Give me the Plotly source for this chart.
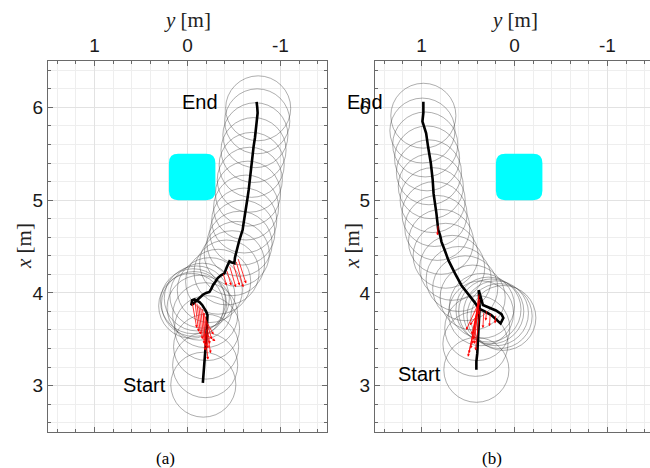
import plotly.graph_objects as go

# ---------------- data ----------------
lat_tickvals = [1, 0, -1]
lat_ticktext = ["1", "0", "-1"]
lon_tickvals = [3, 4, 5, 6]
lon_ticktext = ["3", "4", "5", "6"]

robot_radius = 0.35
obstacle_lat = [-0.3, 0.2]
obstacle_lon = [5.0, 5.5]
obstacle_corner = 0.1

# panel (a) trajectory  (lateral y, longitudinal x)
path_a_lat = [-0.165, -0.175, -0.185, -0.19, -0.201, -0.21, -0.218, -0.215, -0.20, -0.175,
              -0.158, -0.129, -0.10, -0.076, -0.05, -0.04, -0.06, -0.11, -0.165, -0.20,
              -0.236, -0.26, -0.272, -0.30, -0.325, -0.36, -0.397, -0.42, -0.451, -0.47,
              -0.504, -0.51, -0.529, -0.54, -0.558, -0.575, -0.593, -0.60, -0.611, -0.620,
              -0.630, -0.645, -0.658, -0.665, -0.673, -0.685, -0.694, -0.70, -0.711, -0.725,
              -0.737, -0.745, -0.754, -0.75, -0.743]
path_a_lon = [3.03, 3.13, 3.24, 3.36, 3.49, 3.60, 3.71, 3.76, 3.80, 3.84,
              3.87, 3.90, 3.92, 3.93, 3.92, 3.87, 3.88, 3.93, 3.98, 4.00,
              4.01, 4.05, 4.08, 4.12, 4.16, 4.19, 4.21, 4.27, 4.34, 4.33,
              4.32, 4.38, 4.44, 4.50, 4.57, 4.62, 4.68, 4.73, 4.79, 4.86,
              4.93, 5.02, 5.11, 5.18, 5.25, 5.34, 5.43, 5.50, 5.58, 5.67,
              5.76, 5.85, 5.94, 6.00, 6.06]

circ_a_lat = [-0.17, -0.19, -0.20, -0.21, -0.19, -0.13, -0.07, -0.04, -0.06, -0.10,
              -0.16, -0.24, -0.33, -0.42, -0.48, -0.53, -0.56, -0.59, -0.61, -0.63,
              -0.65, -0.67, -0.69, -0.71, -0.73, -0.75, -0.76]
circ_a_lon = [3.01, 3.22, 3.42, 3.62, 3.76, 3.84, 3.88, 3.86, 3.91, 3.94,
              3.97, 4.03, 4.12, 4.22, 4.32, 4.42, 4.53, 4.65, 4.78, 4.92,
              5.07, 5.22, 5.38, 5.54, 5.70, 5.85, 5.99]

arrow_a_tail_lat = [-0.05, -0.08, -0.10, -0.12, -0.14, -0.16, -0.18, -0.19, -0.20, -0.21,
                    -0.20, -0.19, -0.20, -0.17, -0.38, -0.42, -0.45, -0.49, -0.52, -0.54]
arrow_a_tail_lon = [3.90, 3.91, 3.90, 3.88, 3.86, 3.84, 3.80, 3.76, 3.72, 3.68,
                    3.62, 3.58, 3.55, 3.80, 4.22, 4.25, 4.30, 4.32, 4.35, 4.38]
arrow_a_head_lat = [-0.10, -0.12, -0.14, -0.16, -0.18, -0.20, -0.22, -0.24, -0.26, -0.28,
                    -0.25, -0.22, -0.30, -0.19, -0.42, -0.47, -0.52, -0.56, -0.60, -0.63]
arrow_a_head_lon = [3.62, 3.58, 3.55, 3.50, 3.45, 3.42, 3.40, 3.45, 3.50, 3.55,
                    3.35, 3.28, 3.48, 3.38, 4.08, 4.08, 4.06, 4.08, 4.06, 4.10]

# panel (b) trajectory
path_b_lat = [0.41, 0.41, 0.40, 0.39, 0.385, 0.38, 0.375, 0.38, 0.385, 0.34,
              0.27, 0.20, 0.14, 0.12, 0.15, 0.19, 0.25, 0.32, 0.38, 0.43,
              0.50, 0.57, 0.64, 0.71, 0.75, 0.785, 0.80, 0.82, 0.84, 0.87,
              0.88, 0.90, 0.93, 0.95, 0.99, 0.98, 0.98]
path_b_lon = [3.17, 3.26, 3.35, 3.53, 3.62, 3.71, 3.85, 3.95, 4.03, 3.87,
              3.84, 3.81, 3.77, 3.73, 3.67, 3.71, 3.76, 3.80, 3.83, 3.90,
              3.99, 4.08, 4.21, 4.35, 4.46, 4.55, 4.62, 4.68, 4.86, 5.07,
              5.22, 5.40, 5.58, 5.72, 5.85, 5.94, 6.06]

circ_b_lat = [0.41, 0.42, 0.40, 0.36, 0.28, 0.20, 0.12, 0.16, 0.25, 0.35,
              0.45, 0.53, 0.60, 0.67, 0.74, 0.79, 0.83, 0.86, 0.88, 0.90,
              0.92, 0.94, 0.96, 0.99, 0.98]
circ_b_lon = [3.17, 3.45, 3.62, 3.78, 3.82, 3.78, 3.73, 3.75, 3.80, 3.86,
              3.95, 4.05, 4.15, 4.27, 4.40, 4.55, 4.70, 4.85, 5.00, 5.15,
              5.30, 5.45, 5.60, 5.75, 5.91]

arrow_b_tail_lat = [0.38, 0.38, 0.37, 0.37, 0.38, 0.39, 0.38, 0.37, 0.36, 0.40,
                    0.33, 0.26, 0.20, 0.30, 0.82]
arrow_b_tail_lon = [4.00, 3.98, 3.95, 3.92, 3.90, 3.88, 3.86, 3.84, 3.82, 3.80,
                    3.80, 3.79, 3.77, 3.82, 4.74]
arrow_b_head_lat = [0.45, 0.47, 0.49, 0.50, 0.46, 0.52, 0.44, 0.42, 0.48, 0.43,
                    0.34, 0.27, 0.21, 0.31, 0.83]
arrow_b_head_lon = [3.45, 3.40, 3.35, 3.31, 3.55, 3.60, 3.50, 3.38, 3.65, 3.45,
                    3.62, 3.64, 3.67, 3.70, 4.62]

label_pos_a = {"End": (-0.13, 6.06), "Start": (0.46, 3.01)}
label_pos_b = {"End": (1.61, 6.06), "Start": (1.02, 3.13)}

# ---------------- figure ----------------
W, H = 650, 468
LON_RANGE = [2.5, 6.5]
PLOT_TOP, PLOT_BOTTOM = 61, 432
fig = go.Figure()

fig.add_trace(go.Scatter(x=path_a_lat, y=path_a_lon, mode="lines",
                         line=dict(color="black", width=2.6),
                         xaxis="x", yaxis="y", hoverinfo="skip", showlegend=False))
fig.add_trace(go.Scatter(x=path_b_lat, y=path_b_lon, mode="lines",
                         line=dict(color="black", width=2.6),
                         xaxis="x2", yaxis="y2", hoverinfo="skip", showlegend=False))

shapes = []
annotations = []


def obstacle_path(lat, lon, r):
    x0, x1 = min(lat), max(lat)
    y0, y1 = min(lon), max(lon)
    return (f"M {x0 + r},{y0} L {x1 - r},{y0} Q {x1},{y0} {x1},{y0 + r} "
            f"L {x1},{y1 - r} Q {x1},{y1} {x1 - r},{y1} L {x0 + r},{y1} "
            f"Q {x0},{y1} {x0},{y1 - r} L {x0},{y0 + r} Q {x0},{y0} {x0 + r},{y0} Z")


for xr, yr, clat, clon in [("x", "y", circ_a_lat, circ_a_lon),
                           ("x2", "y2", circ_b_lat, circ_b_lon)]:
    shapes.append(dict(type="path", xref=xr, yref=yr,
                       path=obstacle_path(obstacle_lat, obstacle_lon, obstacle_corner),
                       fillcolor="#00ffff", line=dict(width=0), layer="between"))
    for cx, cy in zip(clat, clon):
        shapes.append(dict(type="circle", xref=xr, yref=yr,
                           x0=cx - robot_radius, x1=cx + robot_radius,
                           y0=cy - robot_radius, y1=cy + robot_radius,
                           line=dict(color="rgba(60,60,60,0.7)", width=0.6),
                           layer="between"))

for xr, yr, tl, tn, hl, hn in [("x", "y", arrow_a_tail_lat, arrow_a_tail_lon, arrow_a_head_lat, arrow_a_head_lon),
                               ("x2", "y2", arrow_b_tail_lat, arrow_b_tail_lon, arrow_b_head_lat, arrow_b_head_lon)]:
    for a, b, c, d in zip(tl, tn, hl, hn):
        annotations.append(dict(x=c, y=d, ax=a, ay=b, xref=xr, yref=yr, axref=xr, ayref=yr,
                                text="", showarrow=True, arrowhead=2, arrowsize=0.7,
                                arrowwidth=0.8, arrowcolor="red", standoff=0))

sans = "Liberation Sans, Arial, sans-serif"
serif = "Liberation Serif, Times New Roman, serif"


def lon_to_paper(v):
    py = PLOT_TOP + (LON_RANGE[1] - v) / (LON_RANGE[1] - LON_RANGE[0]) * (PLOT_BOTTOM - PLOT_TOP)
    return 1 - py / H


for txt, (lx, ly) in label_pos_a.items():
    annotations.append(dict(x=lx, y=ly, xref="x", yref="y", text=txt, showarrow=False,
                            font=dict(family=sans, size=20, color="black"),
                            xanchor="center", yanchor="middle"))
# panel (b) labels: "End" lies left of the axes, so place it in paper coordinates
B_LEFT_PX, B_PX_PER_M = 375, 93.0
for txt, (lx, ly) in label_pos_b.items():
    px = B_LEFT_PX + (1.5 - lx) * B_PX_PER_M
    annotations.append(dict(x=px / W, y=lon_to_paper(ly), xref="paper", yref="paper",
                            text=txt, showarrow=False,
                            font=dict(family=sans, size=20, color="black"),
                            xanchor="center", yanchor="middle"))

# axis titles
for xr in ["x", "x2"]:
    annotations.append(dict(x=0, y=1 - 20 / H, xref=xr, yref="paper",
                            text="<i>y</i> [m]", showarrow=False,
                            font=dict(family=serif, size=21, color="#222"),
                            xanchor="center", yanchor="middle"))
for px in [24, 352]:
    annotations.append(dict(x=px / W, y=1 - 246 / H, xref="paper", yref="paper",
                            text="<i>x</i> [m]", showarrow=False, textangle=-90,
                            font=dict(family=serif, size=21, color="#222"),
                            xanchor="center", yanchor="middle"))
for txt, px in [("(a)", 165), ("(b)", 492)]:
    annotations.append(dict(x=px / W, y=1 - 458 / H, xref="paper", yref="paper",
                            text=txt, showarrow=False,
                            font=dict(family=serif, size=17, color="black"),
                            xanchor="center", yanchor="middle"))

axis_line = "#6a6a6a"
major_grid = "#e2e2e2"
minor_grid = "#eeeeee"
ydom = [1 - PLOT_BOTTOM / H, 1 - PLOT_TOP / H]


def lat_axis(domain, rng, anchor, mirror):
    return dict(domain=domain, range=rng, anchor=anchor, side="top",
                tickmode="array", tickvals=lat_tickvals, ticktext=lat_ticktext,
                ticks="inside", ticklen=5, tickcolor=axis_line,
                showline=True, linecolor=axis_line, linewidth=1, mirror=mirror,
                showgrid=True, gridcolor=major_grid, gridwidth=1, zeroline=False,
                tickfont=dict(family=sans, size=19, color="#1a1a1a"),
                minor=dict(dtick=0.2, tick0=0, ticks="inside", ticklen=3,
                           tickcolor=axis_line, showgrid=True, gridcolor=minor_grid),
                fixedrange=True)


def lon_axis(anchor, mirror):
    return dict(domain=ydom, range=LON_RANGE, anchor=anchor,
                tickmode="array", tickvals=lon_tickvals, ticktext=lon_ticktext,
                ticks="inside", ticklen=5, tickcolor=axis_line,
                showline=True, linecolor=axis_line, linewidth=1, mirror=mirror,
                showgrid=True, gridcolor=major_grid, gridwidth=1, zeroline=False,
                tickfont=dict(family=sans, size=19, color="#1a1a1a"),
                minor=dict(dtick=0.2, tick0=0, ticks="inside", ticklen=3,
                           tickcolor=axis_line, showgrid=True, gridcolor=minor_grid),
                fixedrange=True)


fig.update_layout(
    width=W, height=H,
    margin=dict(l=0, r=0, t=0, b=0),
    paper_bgcolor="white", plot_bgcolor="white",
    showlegend=False,
    xaxis=lat_axis([48 / W, 327 / W], [1.5, -1.5], "y", "allticks"),
    yaxis=lon_axis("x", "allticks"),
    xaxis2=lat_axis([B_LEFT_PX / W, 1.0], [1.5, 1.5 - (W - B_LEFT_PX) / B_PX_PER_M], "y2", "allticks"),
    yaxis2=lon_axis("x2", False),
    shapes=shapes,
    annotations=annotations,
)

fig.write_html("out.html")
